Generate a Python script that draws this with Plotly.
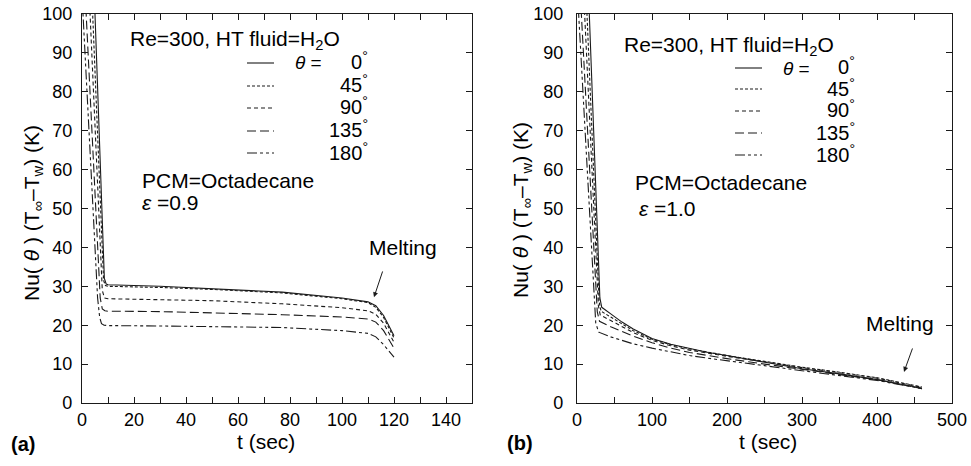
import plotly.graph_objects as go

# ---------------- data: panel (a), eps = 0.9 ----------------
angles = ["0", "45", "90", "135", "180"]

t_a_0 = [4.2, 5.0, 8.6, 9.3, 10, 30, 50, 77, 100, 110, 113, 116, 120]
nu_a_0 = [115, 100, 32.0, 30.6, 30.4, 30.0, 29.4, 28.5, 27.0, 26.0, 25.0, 22.5, 17.3]
t_a_45 = [3.3, 4.1, 8.3, 9.0, 10, 30, 50, 77, 100, 110, 113, 116, 120]
nu_a_45 = [115, 100, 31.5, 30.2, 30.0, 29.7, 29.2, 28.3, 26.8, 25.8, 24.6, 22.0, 16.7]
t_a_90 = [2.3, 3.1, 7.8, 8.6, 10, 30, 50, 77, 100, 110, 113, 116, 120]
nu_a_90 = [115, 100, 29.0, 27.0, 26.8, 26.6, 26.3, 25.5, 24.5, 23.7, 22.8, 20.5, 15.6]
t_a_135 = [0.8, 1.6, 7.0, 7.8, 8.8, 10, 30, 50, 77, 100, 110, 113, 116, 120]
nu_a_135 = [115, 100, 27.0, 24.2, 23.7, 23.6, 23.5, 23.2, 22.7, 22.1, 21.6, 20.8, 18.6, 14.1]
t_a_180 = [0.0, 0.4, 6.0, 6.8, 7.5, 8.5, 10, 30, 50, 77, 100, 110, 113, 116, 120]
nu_a_180 = [105, 100, 27.0, 22.0, 20.4, 20.0, 19.9, 19.8, 19.7, 19.4, 18.6, 17.9, 17.0, 15.0, 11.8]

# ---------------- data: panel (b), eps = 1.0 ----------------
t_b_0 = [15.0, 16.4, 30.5, 33, 45, 60, 75, 100, 125, 150, 175, 200, 250, 300, 350, 400, 460]
nu_b_0 = [108, 100, 27.0, 24.6, 22.9, 20.8, 19.0, 16.6, 15.1, 14.0, 13.0, 12.2, 10.5, 8.8, 7.5, 6.0, 3.8]
t_b_45 = [12.0, 13.3, 29.5, 32, 45, 60, 75, 100, 125, 150, 175, 200, 250, 300, 350, 400, 460]
nu_b_45 = [108, 100, 26.0, 23.6, 22.1, 20.3, 18.6, 16.4, 15.0, 13.9, 13.0, 12.2, 10.7, 9.2, 7.9, 6.5, 4.1]
t_b_90 = [9.0, 10.2, 28.5, 31, 45, 60, 75, 100, 125, 150, 175, 200, 250, 300, 350, 400, 460]
nu_b_90 = [108, 100, 25.0, 22.6, 21.2, 19.6, 18.1, 16.1, 14.7, 13.6, 12.8, 12.0, 10.6, 9.1, 7.8, 6.4, 4.0]
t_b_135 = [4.5, 5.8, 27, 30, 45, 60, 75, 100, 125, 150, 175, 200, 250, 300, 350, 400, 460]
nu_b_135 = [108, 100, 23.5, 21.0, 19.6, 18.4, 17.2, 15.5, 14.1, 13.0, 12.2, 11.4, 10.0, 8.6, 7.3, 6.0, 3.7]
t_b_180 = [1.0, 2.2, 25, 29, 45, 60, 75, 100, 125, 150, 175, 200, 250, 300, 350, 400, 460]
nu_b_180 = [108, 100, 20.5, 18.2, 17.0, 16.1, 15.2, 14.1, 13.1, 12.2, 11.5, 10.9, 9.6, 8.3, 7.1, 5.8, 3.7]

x_ticks_a = [0, 20, 40, 60, 80, 100, 120, 140]
x_ticks_b = [0, 100, 200, 300, 400, 500]
y_ticks = [0, 10, 20, 30, 40, 50, 60, 70, 80, 90, 100]

# ---------------- styling ----------------
W, H = 971, 466
FONT = "Liberation Sans, Arial, Helvetica, sans-serif"
INK = "#1a1a1a"
dashes = ["solid", "3px,2px", "4px,3px", "9px,4px", "10px,3px,3px,3px,3px,3px"]


def px(x):
    return x / W


def py(y):
    return 1 - y / H


series_a = [(t_a_0, nu_a_0), (t_a_45, nu_a_45), (t_a_90, nu_a_90),
            (t_a_135, nu_a_135), (t_a_180, nu_a_180)]
series_b = [(t_b_0, nu_b_0), (t_b_45, nu_b_45), (t_b_90, nu_b_90),
            (t_b_135, nu_b_135), (t_b_180, nu_b_180)]

fig = go.Figure()
for i, (t, v) in enumerate(series_a):
    fig.add_trace(go.Scatter(x=t, y=v, mode="lines", xaxis="x", yaxis="y",
                             line=dict(color=INK, width=1.1, dash=dashes[i]),
                             showlegend=False, name=angles[i] + "°"))
for i, (t, v) in enumerate(series_b):
    fig.add_trace(go.Scatter(x=t, y=v, mode="lines", xaxis="x2", yaxis="y2",
                             line=dict(color=INK, width=1.1, dash=dashes[i]),
                             showlegend=False, name=angles[i] + "°"))

ax_common = dict(showline=True, linecolor=INK, linewidth=1.2, mirror="ticks",
                 ticks="inside", ticklen=6, tickcolor=INK, tickwidth=1,
                 showgrid=False, zeroline=False, automargin=False,
                 tickfont=dict(family=FONT, size=18, color="black"))

ydom = [py(403), py(14)]
fig.update_layout(
    width=W, height=H,
    margin=dict(l=0, r=0, t=0, b=0, autoexpand=False),
    paper_bgcolor="white", plot_bgcolor="white",
    font=dict(family=FONT, color="black"),
    xaxis=dict(domain=[px(82), px(472)], range=[0, 150], anchor="y",
               tickvals=x_ticks_a,
               minor=dict(dtick=10, tick0=0, ticks="inside", ticklen=6,
                          tickcolor=INK, showgrid=False),
               **ax_common),
    yaxis=dict(domain=ydom, range=[0, 100], anchor="x", tickvals=y_ticks,
               ticklabelstandoff=5, **ax_common),
    xaxis2=dict(domain=[px(577), px(952)], range=[0, 500], anchor="y2",
                tickvals=x_ticks_b,
                minor=dict(dtick=50, tick0=0, ticks="inside", ticklen=6,
                           tickcolor=INK, showgrid=False),
                **ax_common),
    yaxis2=dict(domain=ydom, range=[0, 100], anchor="x2", tickvals=y_ticks,
                ticklabelstandoff=9, **ax_common),
)

ann = []
shapes = []


def txt(text, x, y, size=21, xanchor="left", **kw):
    ann.append(dict(text=text, x=px(x), y=py(y), xref="paper", yref="paper",
                    xanchor=xanchor, yanchor="middle", showarrow=False,
                    font=dict(family=FONT, size=size, color="black"), **kw))


def legend_block(x0, x1, xtheta, xlab, rows):
    for i, ang in enumerate(angles):
        shapes.append(dict(type="line", xref="paper", yref="paper",
                           x0=px(x0), x1=px(x1), y0=py(rows[i]), y1=py(rows[i]),
                           line=dict(color=INK, width=1.1, dash=dashes[i])))
        txt(ang + "<sup>°</sup>", xlab, rows[i] - 2, size=20, xanchor="right")
    txt("<i>θ</i> =", xtheta, rows[0], size=19)


# panel (a)
txt("Re=300, HT fluid=H<sub>2</sub>O", 128, 40)
legend_block(247, 274, 293, 370, [63, 86, 108, 131, 153])
txt("PCM=Octadecane", 140, 180)
txt("<i>ε</i> =0.9", 140, 202)
txt("Melting", 403, 247, xanchor="center")
txt("<b>(a)</b>", 23, 444, size=20, xanchor="center")
txt("t (sec)", 266, 441, xanchor="center")
txt("Nu( <i>θ</i> ) (T<sub>∞</sub>–T<sub>w</sub>) (K)", 33, 213, size=21,
    xanchor="center", textangle=-90)

# panel (b)
txt("Re=300, HT fluid=H<sub>2</sub>O", 622, 46)
legend_block(735, 762, 781, 857, [68, 89, 111, 133, 155])
txt("PCM=Octadecane", 633, 182)
txt("<i>ε</i> =1.0", 637, 208)
txt("Melting", 900, 323, xanchor="center")
txt("<b>(b)</b>", 520, 443, size=20, xanchor="center")
txt("t (sec)", 768, 441, xanchor="center")
txt("Nu( <i>θ</i> ) (T<sub>∞</sub>–T<sub>w</sub>) (K)", 522, 210, size=21,
    xanchor="center", textangle=-90)

# melting arrows (tip on data, tail above)
ann.append(dict(x=112.3, y=27.2, ax=115.8, ay=34.2, xref="x", yref="y",
                axref="x", ayref="y", showarrow=True, arrowhead=2,
                arrowsize=1, arrowwidth=1, arrowcolor=INK, text=""))
ann.append(dict(x=436, y=8.0, ax=448, ay=14.4, xref="x2", yref="y2",
                axref="x2", ayref="y2", showarrow=True, arrowhead=2,
                arrowsize=1, arrowwidth=1, arrowcolor=INK, text=""))

fig.update_layout(annotations=ann, shapes=shapes)
fig.write_html("out.html",
               config={"displayModeBar": False},
               post_script="document.body.style.margin='0';"
                           "document.body.style.overflow='hidden';")
